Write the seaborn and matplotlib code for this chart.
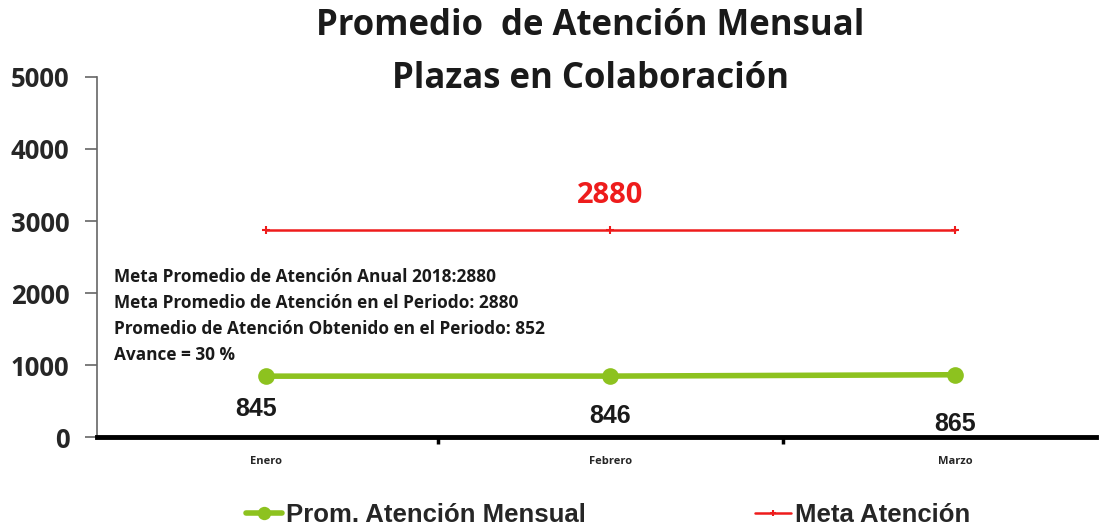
#!/usr/bin/env python3
"""Promedio de atencion mensual - plazas en colaboracion."""

import pandas as pd
import matplotlib.pyplot as plt
import seaborn as sns

meses = ['Enero', 'Febrero', 'Marzo']
prom_atencion = [845, 846, 865]
meta_atencion = [2880, 2880, 2880]
y_ticks = [0, 1000, 2000, 3000, 4000, 5000]
nota = [
    'Meta Promedio de Atención Anual 2018:2880',
    'Meta Promedio de Atención en el Periodo: 2880',
    'Promedio de Atención Obtenido en el Periodo: 852',
    'Avance = 30 %',
]

sns.set_style("white")
plt.rcParams['font.family'] = ['Liberation Sans', 'DejaVu Sans']
calibri = ['Open Sans', 'DejaVu Sans']

df = pd.DataFrame({'mes': meses, 'x': range(len(meses)),
                   'prom': prom_atencion, 'meta': meta_atencion})

fig = plt.figure(figsize=(11.04, 5.31), dpi=100)
ax = fig.add_axes([0.088, 0.177, 0.905, 0.678])

verde = '#8dc21f'
rojo = '#ee1c1c'
sns.lineplot(data=df, x='x', y='meta', ax=ax, color=rojo, linewidth=1.8,
             marker='+', markersize=6, markeredgewidth=1.5, markeredgecolor=rojo,
             label='Meta Atención')
sns.lineplot(data=df, x='x', y='prom', ax=ax, color=verde, linewidth=4,
             marker='o', markersize=12, markeredgewidth=0, markeredgecolor=verde,
             label='Prom. Atención Mensual')

# etiquetas de datos
offsets = [-450, -560, -690]
for i, v in enumerate(prom_atencion):
    ax.text(i - 0.03 if i == 0 else i, v + offsets[i], str(v), ha='center', va='center',
            fontsize=18, fontweight='bold', color='#1a1a1a')
ax.text(1.0, meta_atencion[1] + 480, str(meta_atencion[1]), ha='center', va='center',
        fontsize=21, fontweight='bold', color=rojo, family=calibri)

# cuadro de texto
for k, linea in enumerate(nota):
    ax.text(-0.44, 2220 - k * 360, linea, ha='left', va='center', fontsize=12.4,
            fontweight='bold', color='#1a1a1a', family=calibri)

ax.set_xlim(-0.49, 2.41)
ax.set_ylim(0, 5000)
ax.set_xticks(range(len(meses)))
ax.set_xticklabels(meses, fontsize=8, fontweight='bold', family=calibri)
ax.set_xticks([0.5, 1.5], minor=True)
ax.tick_params(axis='x', which='major', length=0, pad=14, bottom=True)
ax.tick_params(axis='x', which='minor', length=5, width=2.5, color='black',
               direction='out', bottom=True)
ax.set_yticks(y_ticks)
ax.set_yticklabels([str(t) for t in y_ticks], fontsize=18.5, fontweight='bold', family=calibri)
ax.tick_params(axis='y', length=9, width=1.2, color='#666666', direction='out', pad=11,
               left=True)
ax.set_xlabel('')
ax.set_ylabel('')
sns.despine(ax=ax)
ax.spines['left'].set_color('#666666')
ax.spines['left'].set_linewidth(1.2)
ax.spines['bottom'].set_color('black')
ax.spines['bottom'].set_linewidth(3.5)

fig.text(0.535, 0.951, 'Promedio  de Atención Mensual', ha='center', va='center',
         fontsize=25, fontweight='bold', family=calibri, color='#1a1a1a')
fig.text(0.535, 0.851, 'Plazas en Colaboración', ha='center', va='center',
         fontsize=25, fontweight='bold', family=calibri, color='#1a1a1a')

handles, labels = ax.get_legend_handles_labels()
ax.legend_.remove()
fig.legend(handles[::-1], labels[::-1], loc='center', bbox_to_anchor=(0.551, 0.03),
           ncol=2, frameon=False, prop={'weight': 'bold', 'size': 18.5},
           handlelength=1.4, handletextpad=0.15, columnspacing=6.6, markerscale=0.8)

fig.savefig('out.png', dpi=100)
